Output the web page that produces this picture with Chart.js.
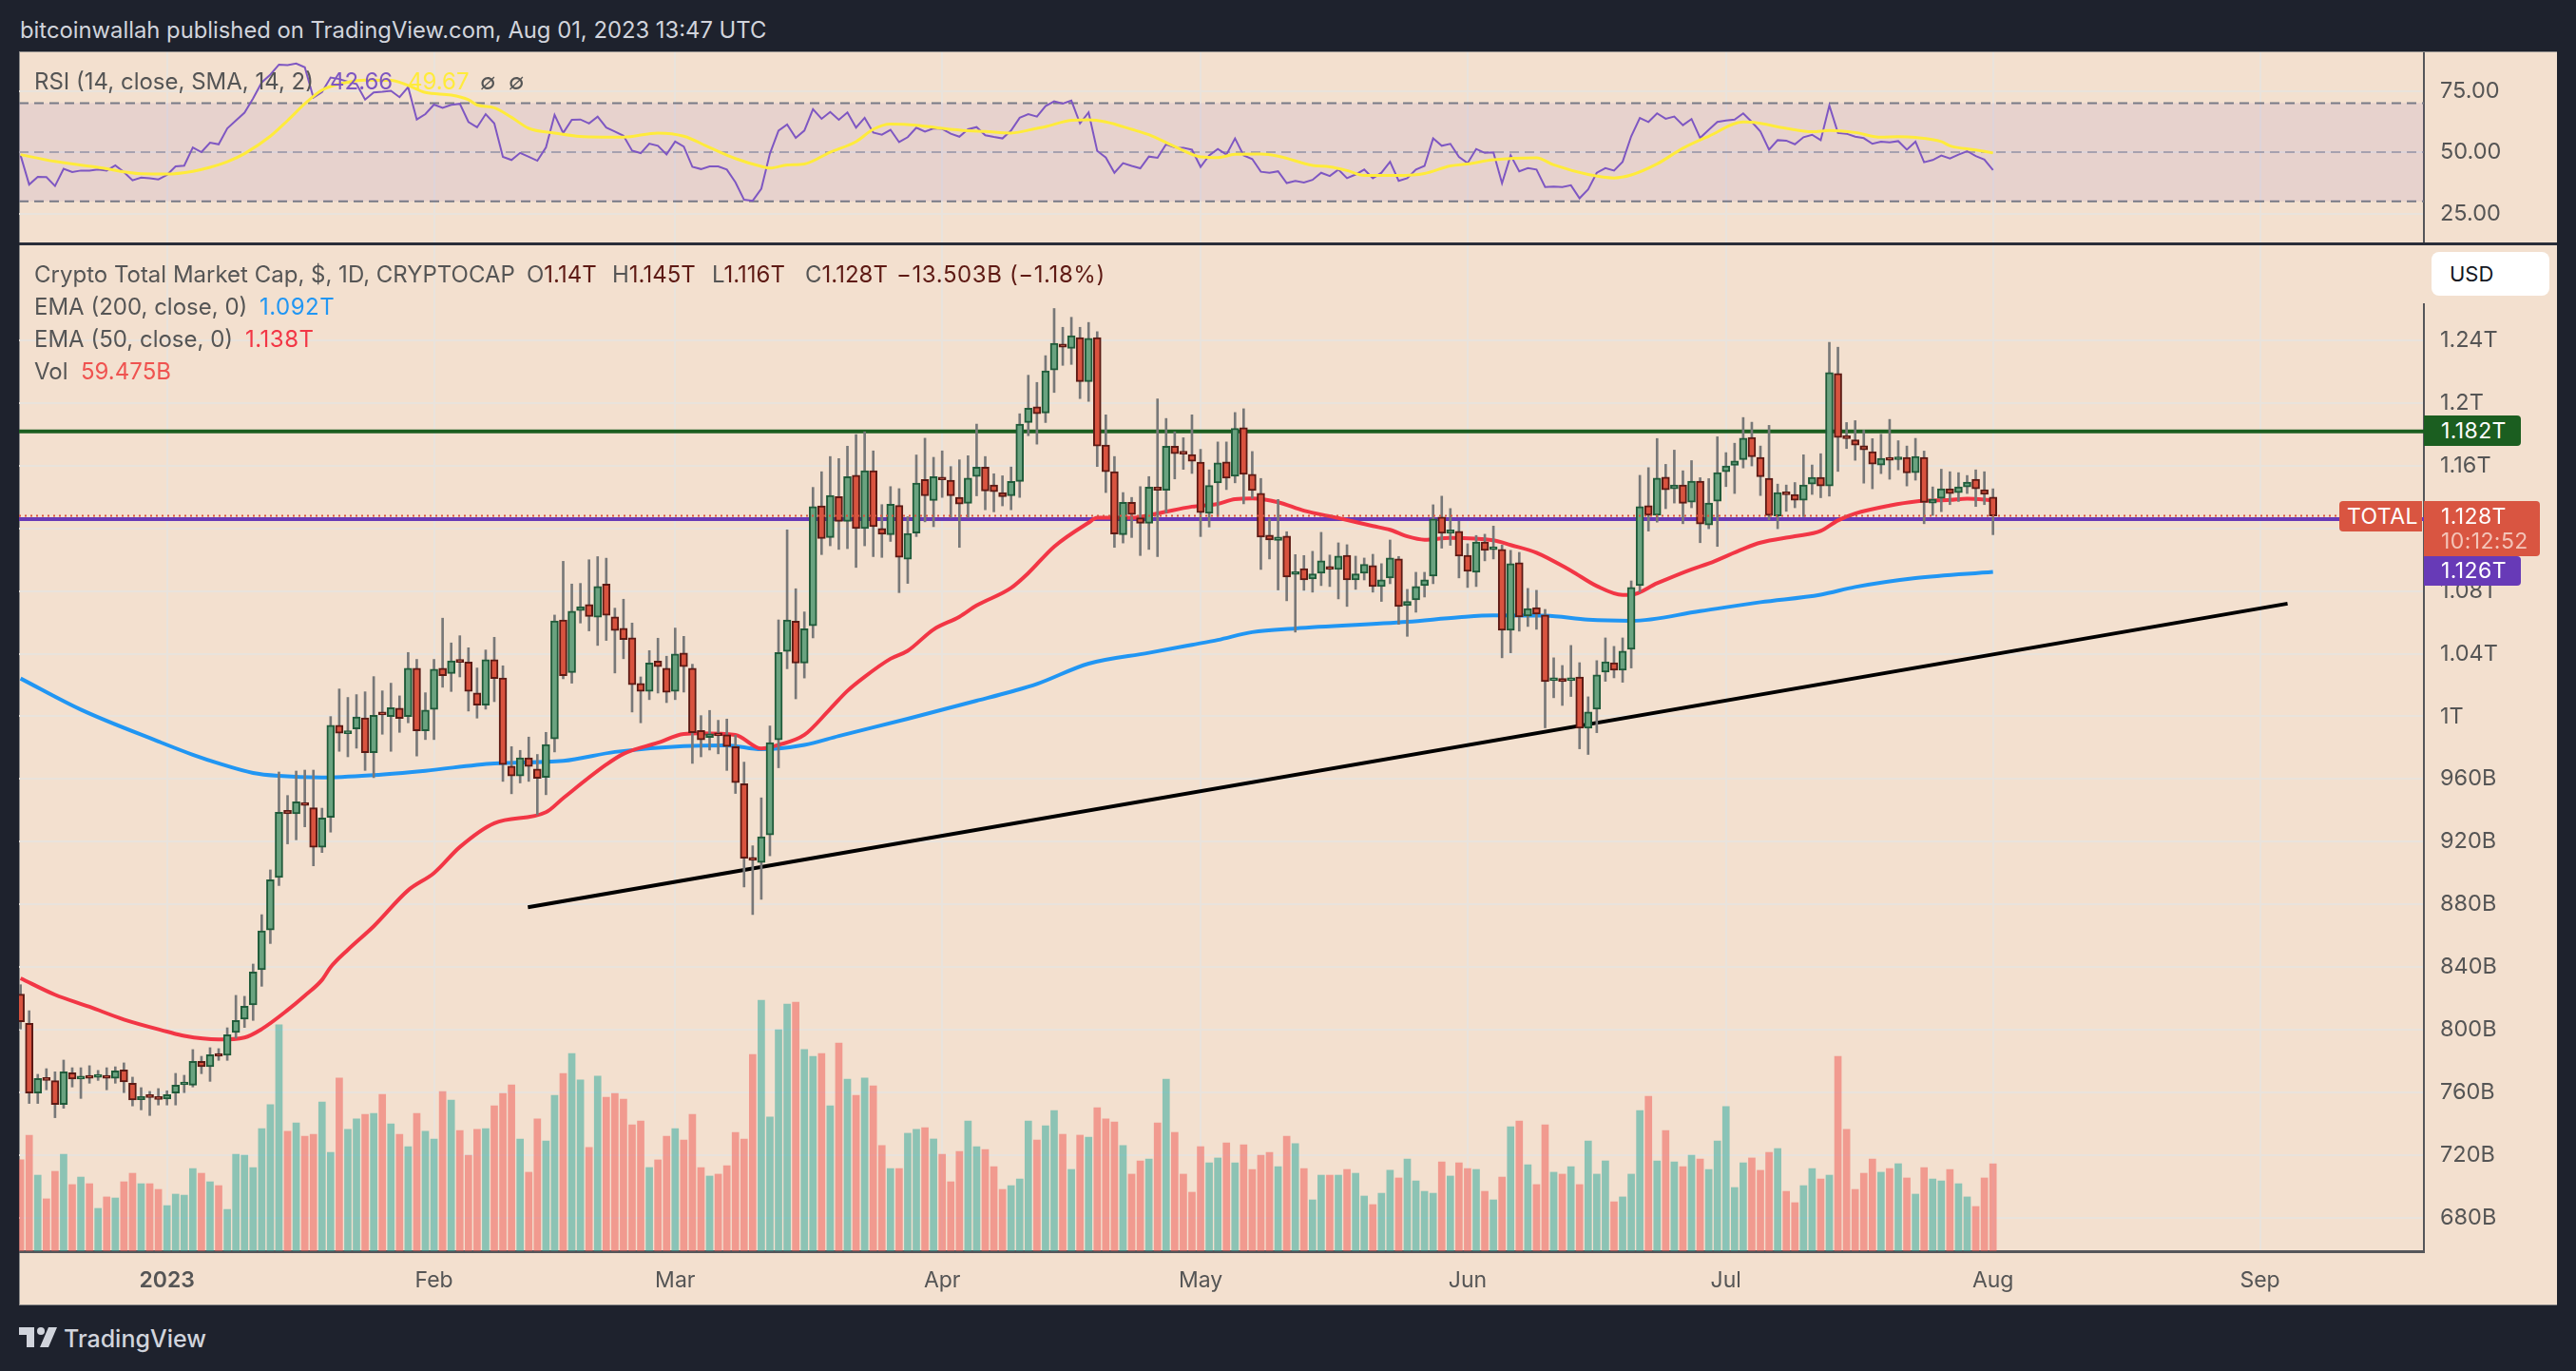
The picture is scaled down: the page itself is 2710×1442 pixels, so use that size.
<!DOCTYPE html>
<html><head><meta charset="utf-8">
<script src="https://cdn.jsdelivr.net/npm/chart.js@4/dist/chart.umd.min.js"></script>
<style>
html,body{margin:0;padding:0;background:#1e222d;width:2710px;height:1442px;overflow:hidden;font-family:Inter,sans-serif}
.a{position:absolute;white-space:pre;line-height:1}
#frame{position:absolute;left:20px;top:54px;width:2669px;height:1317px;background:#f3e0cf;border:1px solid #8d8c8b;border-right:0;box-sizing:content-box}
canvas{position:absolute;left:20px}
.t{font-size:24px;color:#555;transform:translateY(-50%)}
.tag{position:absolute;color:#fff;font-size:23px;letter-spacing:.4px;line-height:1;box-sizing:border-box;display:flex;align-items:center;padding-left:18px;white-space:pre}
</style></head><body>
<div id="frame"></div>
<div class="a" id="sep" style="left:20px;top:255px;width:2670px;height:3px;background:#2a2e39"></div>
<canvas id="rsiC" width="2670" height="200" style="top:55px"></canvas>
<canvas id="mainC" width="2670" height="1114" style="top:258px"></canvas>
<div class="a" style="left:2549px;top:258px;width:4px;height:61px;background:#f3e0cf"></div>

<div class="a" style="left:21px;top:32px;font-size:23.8px;color:#d1d4dc;transform:translateY(-50%)">bitcoinwallah published on TradingView.com, Aug 01, 2023 13:47 UTC</div>

<div class="a t" style="left:36px;top:86px">RSI (14, close, SMA, 14, 2)</div>
<div class="a t" style="left:347px;top:86px;color:#7e57c2">42.66</div>
<div class="a t" style="left:429px;top:86px;color:#ffeb3b">49.67</div>
<div class="a t" style="left:505px;top:86px">∅</div>
<div class="a t" style="left:535px;top:86px">∅</div>

<div class="a t" style="left:36px;top:289px">Crypto Total Market Cap, $, 1D, CRYPTOCAP</div>
<div class="a t" style="left:554px;top:289px">O<span style="color:#5e1a14">1.14T</span></div>
<div class="a t" style="left:644px;top:289px">H<span style="color:#5e1a14">1.145T</span></div>
<div class="a t" style="left:749px;top:289px">L<span style="color:#5e1a14">1.116T</span></div>
<div class="a t" style="left:847px;top:289px">C<span style="color:#5e1a14">1.128T</span></div>
<div class="a t" style="left:943px;top:289px;letter-spacing:.6px;color:#5e1a14">−13.503B (−1.18%)</div>
<div class="a t" style="left:36px;top:323px">EMA (200, close, 0)</div>
<div class="a t" style="left:273px;top:323px;color:#2196f3;letter-spacing:.5px">1.092T</div>
<div class="a t" style="left:36px;top:357px">EMA (50, close, 0)</div>
<div class="a t" style="left:258px;top:357px;color:#f23645;letter-spacing:.5px">1.138T</div>
<div class="a t" style="left:36px;top:391px">Vol</div>
<div class="a t" style="left:85px;top:391px;color:#ef5350">59.475B</div>

<div class="a" style="left:2558px;top:265px;width:124px;height:46px;background:#fff;border-radius:8px;box-sizing:border-box;padding:12px 0 0 19px;font-size:22px;color:#131722">USD</div>
<div class="tag" style="left:2550px;top:437px;width:102px;height:32px;background:#1b5e20;border-radius:0 4px 4px 0">1.182T</div>
<div class="tag" style="left:2461px;top:527px;width:87px;height:32px;background:#d95541;border-radius:4px 0 0 4px;padding-left:8px">TOTAL</div>
<div class="tag" style="left:2550px;top:527px;width:122px;height:58px;background:#d95541;border-radius:0 4px 4px 0;display:block;padding-top:5px">1.128T<br><span style="display:inline-block;margin-top:3px;color:#f3c4b8">10:12:52</span></div>
<div class="tag" style="left:2550px;top:585px;width:102px;height:31px;background:#673ab7;border-radius:0 4px 4px 0">1.126T</div>

<svg class="a" style="left:20px;top:1396px" width="40" height="21" viewBox="0 0 40 21"><path fill="#d1d4dc" d="M16 21H8V8H0V0h16zM31 21h-9l9-21h9z"/><circle cx="23" cy="4" r="4" fill="#d1d4dc"/></svg>
<div class="a" style="left:67px;top:1408px;font-size:25px;font-weight:500;color:#d1d4dc;transform:translateY(-50%)">TradingView</div>

<script>
const firstDay = -17;
const open = [822.7,804.1,759.6,768.5,767.4,752.3,772.5,768.5,770.3,769.6,
770.7,769,774.3,765.8,755.3,757.5,756.7,755.7,759.6,764.8,
764.6,779.8,776.3,784.2,783.6,798.2,806.7,815.8,838.3,863.7,
897.1,940,937.8,944.9,941.6,916.5,935.6,994.3,989,992,
999.1,976.9,1001.8,999.9,1005.2,999.9,1030.7,990.8,1004.4,1030.7,
1027.3,1035.3,1034.7,1014.9,1007.2,1036.2,1024.6,968.2,961.9,973.6,
966.4,961.1,985.6,1061.6,1027.9,1067.5,1071.4,1063.3,1084.5,1063.5,
1056.2,1050.1,1021,1015.9,1035.3,1030.7,1015.9,1040.4,1030.7,991,
986.6,988.2,988.2,980.7,957,909,906.7,924.3,985,1041.4,
1060.8,1034,1057.8,1134.4,1114.2,1140.3,1124.5,1153.9,1119.9,1156.9,
1119.9,1116,1134.7,1100.4,1117,1151.3,1137.8,1152.6,1150.8,1139.8,
1136,1153.1,1159.2,1147.7,1142.9,1140.8,1150,1187.6,1197.6,1193.7,
1221.1,1237.7,1234.9,1241.8,1213.7,1241.8,1173.3,1156.2,1116,1136.7,
1126.8,1123.2,1146.4,1144.4,1172.5,1167.9,1167.1,1162.3,1129.6,1149.1,
1162.4,1153.3,1184.3,1154.5,1142.4,1115.7,1112.4,1115.1,1090.6,1094.4,
1087.8,1091.4,1094.6,1093.8,1102.9,1087.1,1091.4,1096.3,1082.9,1088.4,
1100.5,1070.8,1074.4,1083.5,1089.6,1127.2,1116.9,1118.1,1102.9,1092,
1111.4,1106.4,1106.6,1055,1098.1,1064.1,1069.5,1064.7,1022.8,1024.2,
1022.8,1025.2,992.5,1004.6,1028.3,1034.3,1029.5,1042.8,1083.5,1134.5,
1128.4,1152.8,1145.3,1147.7,1136.8,1150.2,1122.2,1137.4,1156.2,1160.3,
1163.9,1178.1,1165.3,1152,1127.9,1142.3,1141.7,1138,1148.3,1152.6,
1147.1,1218.9,1177.9,1176.5,1172.8,1169,1160.5,1164.3,1163.9,1165.3,
1155.6,1165.3,1136.2,1139.2,1145.3,1142.9,1146.5,1151.4,1144.7,1140];
const close = [805.1,759.6,768.9,767.6,752.3,773.1,768.5,770,769,770.9,
769,773.7,766.6,755.1,757.3,756.7,755.5,758.5,764.6,765.4,
779.8,776.3,784,783,796.8,805.9,815,836.8,863,895.7,
938.8,937.8,945.5,943.2,916.5,935.1,994.3,989.2,990.6,999.7,
976.9,1000.7,1001,1005.6,998.7,1030.7,990.8,1004,1030.1,1026,
1035.5,1034.5,1015.9,1007.2,1036.2,1024.2,969.2,961.9,973.6,968,
960.5,982.1,1061,1026,1067.1,1070,1063.7,1082.9,1064.5,1054.8,
1049.1,1020.2,1015.9,1034.1,1031.7,1015.3,1039.8,1031.7,989.6,985,
988.8,987.6,980.7,957.7,909.5,908.1,923.1,983.2,1040.8,1061.6,
1034,1056,1133.9,1113.5,1141.1,1124.5,1153.1,1119.9,1156.9,1121.1,
1116.3,1135.5,1101.5,1116.8,1149,1140.8,1153.1,1151,1140.8,1135.5,
1152.1,1159.2,1143.9,1143.4,1140.3,1150,1186.6,1196.8,1193.2,1220.6,
1238.2,1235.7,1243.1,1213.7,1241.3,1172.5,1156.2,1116.5,1136.7,1128.8,
1123.2,1146.4,1144.4,1172.5,1167.7,1167.4,1162.8,1130.1,1147.5,1161.8,
1152.1,1183.9,1154.5,1144.2,1114.5,1112.6,1114.5,1089,1091.2,1087.2,
1091,1099.3,1093.8,1102.3,1087.1,1091,1097.1,1082.9,1087.2,1101.1,
1070.2,1073.4,1082.9,1087.2,1126,1116.9,1119.1,1102.3,1092.6,1111.4,
1106,1107,1055,1097.5,1063.5,1068.9,1065.3,1022.2,1023.8,1022.2,
1024.2,992.5,1002.8,1026.5,1034.9,1029.5,1041.6,1082.3,1133.9,1128.4,
1152.1,1144.7,1147.7,1136,1150.2,1122.8,1136.2,1155.6,1159.9,1163.1,
1177.7,1165.7,1153,1128.3,1142.9,1141.5,1138,1147.7,1152.6,1147.1,
1219.5,1178.1,1177.3,1173.2,1170.2,1161.1,1164.7,1163.5,1165.5,1155.4,
1165.9,1136.6,1138.6,1145.3,1142.3,1146.5,1149.5,1145.3,1141.7,1128];
const high = [828.7,812.1,771.5,775.1,773.1,780.6,775.7,775.7,777,774,
775.7,776.3,778.8,769.7,763,760.6,762.4,761,772.1,770.9,
787.3,783,788.5,787.9,801.2,821.9,821.3,841.9,873.4,902,
964.5,949.5,965.1,965.7,965.7,941.4,999.9,1017.5,1012.1,1013.9,
1015.7,1025.4,1016.3,1021.2,1013.1,1040.8,1036.4,1015.1,1036.4,1062.7,
1046.9,1051.5,1043.8,1030.9,1042.4,1050.5,1032.3,980.7,978.3,986.8,
975.7,989.8,1064.7,1099,1084.5,1084.9,1100,1102,1101,1069.1,
1074.8,1059.6,1025.2,1042,1049.9,1038.4,1056.4,1051.1,1033.3,1000.5,
1003.8,997.5,998.3,988,970.8,917.4,948,993.9,1061.6,1119.1,
1081.5,1066.7,1146.2,1156.2,1165.9,1164.6,1172.5,1179.9,1181.7,1169.5,
1135.2,1146.7,1145.4,1127.5,1166.9,1177.6,1165.4,1169.5,1159.5,1163.8,
1166.4,1186.6,1165.9,1154.9,1153.6,1159.2,1193.2,1217.8,1213.2,1230.3,
1260.4,1248.4,1254.8,1248.4,1251.5,1245.6,1192.5,1165.9,1142.9,1139.8,
1146.7,1153.1,1202.7,1190.2,1181.7,1177.9,1192.5,1170.5,1157.4,1175.2,
1175.2,1194,1196.4,1169.1,1151.9,1126,1138.5,1117.9,1103.3,1102.7,
1105.4,1117.5,1103,1110.8,1109.6,1102.3,1101.1,1103.5,1097.5,1112.6,
1102.1,1081.1,1092,1092,1135.1,1140.6,1132.7,1124.6,1110.2,1115.5,
1116.3,1121.5,1109.4,1106,1104.7,1081.7,1080.5,1068.3,1037.4,1032.5,
1045.3,1034.3,1012.5,1035.6,1050.1,1044.7,1050.1,1086.5,1153.9,1158.8,
1177.4,1160.9,1170,1156.8,1163.3,1152.4,1151.8,1178.5,1168.4,1174.4,
1190.8,1187.8,1172.6,1185.8,1148.3,1147.7,1149.3,1167,1160.5,1167.7,
1238.8,1235.7,1187.6,1188.8,1182.7,1177.3,1180.1,1189.6,1176,1172.6,
1177.5,1169.4,1146.5,1157.8,1156.2,1155.6,1153.8,1157.4,1156.2,1145.3];
const low = [800.4,752.9,752.9,761.6,743.8,749.8,763.4,756.1,765.8,767.6,
761.6,765.8,759.8,751.3,748.8,745.2,751.9,751.9,751.9,759.8,
763.4,771.9,767,780.4,780.4,794.6,801.4,805.9,827.7,855,
892,918.6,921.2,929.5,904.6,913.1,926.1,977.7,974.2,979.7,
965.5,960.9,988.6,977.7,989.8,995.9,974.7,985.2,985.2,1018.6,
1015.9,1025.2,1003.4,998.9,1004.6,1009.4,958.5,950.6,957.5,958.5,
937.2,950,977.3,1024,1021.2,1059.6,1054.6,1045.3,1048.5,1027.7,
1036.8,1002.8,995.9,1010.7,1014.9,1008.8,1010.7,1015.5,970,974.2,
978.5,976.1,965.5,950.8,891.1,873.5,883.2,911,967.2,1030.4,
1011.2,1024.5,1050.1,1103.3,1108.9,1106.6,1107.1,1095.1,1108.9,1102,
1101.5,1111.7,1079,1084.9,1114.8,1124.2,1121.1,1139.8,1127,1107.9,
1127,1140.8,1131.9,1130.6,1134.4,1131.9,1139.8,1179.2,1173.8,1187.6,
1206.8,1224.1,1224.7,1202.9,1201.1,1159.5,1142.9,1107.9,1110.7,1114.2,
1102.7,1106.6,1102,1130,1151.6,1157.7,1155.1,1114.8,1120.9,1127.6,
1144.8,1149.1,1135.7,1139.3,1093.8,1100.5,1080.7,1073.8,1053.8,1080.5,
1079.3,1083.5,1082.9,1075,1070.2,1081.1,1087.1,1079.3,1073.4,1084.7,
1058.8,1051.1,1066.5,1076.2,1084.7,1107.4,1109.2,1088.4,1082.3,1082.9,
1099.3,1100.5,1037.4,1040.6,1054.4,1057.4,1055.6,992.7,1011.9,1007,
1012.7,979.3,975.7,989.6,1022.4,1024.6,1021.8,1030.9,1079.5,1118.3,
1124,1132.6,1136.2,1123,1133.2,1110.9,1119.8,1108.5,1146.7,1142.3,
1158.6,1159.9,1141,1125.5,1119.8,1130.9,1133.2,1127.5,1141.7,1139.6,
1140.6,1156.4,1171,1163.5,1148.9,1145.3,1155,1151.4,1157.4,1147.1,
1150.8,1123,1128.3,1130.7,1135.2,1137.2,1142.3,1134,1135.2,1116];
const volume = [62.1,78.9,51.7,35.6,54.3,65.9,45.3,50.4,45.9,29.1,
36.9,36.2,47.2,53,45.9,45.9,42,31,38.8,38.1,
56.2,53,47.2,44.6,28.4,65.9,65.3,56.9,83.4,99.6,
153.9,81.5,87.3,78.2,79.5,101.5,67.2,117.7,82.8,89.9,
93.1,93.7,106.7,86.6,79.5,71.1,93.7,81.5,76.3,108.6,
102.8,82.1,65.3,82.8,83.4,98.9,107.3,113.1,76.3,53.7,
89.9,75,106,120.9,134.5,116.4,70.5,119,104.7,107.3,
103.4,86,88.6,56.9,62.1,78.2,83.4,75.6,93.1,56.9,
51.1,52.4,58.2,80.8,76.3,133.8,170.7,91.2,150.6,168.1,
169.4,137.1,132.5,134.5,98.9,141.6,117,106,117.7,112.5,
71.8,56.2,56.2,80.2,82.8,84,76.3,65.9,47.2,67.9,
88.6,71.1,69.2,57.5,42,44.6,49.1,88.6,75.6,85.3,
95.7,79.5,55.6,78.9,77.6,97.6,89.9,87.9,71.8,52.4,
61.4,62.7,87.3,117,80.8,52.4,40.1,71.1,60.1,63.4,
73.7,60.1,72.4,55.6,65.3,67.2,57.5,78.2,73.1,56.2,
34.9,51.7,51.7,51.7,55.6,53,37.5,31.7,39.4,55,
49.8,62.7,47.8,40.7,39.4,60.8,51.1,60.1,56.2,55.6,
40.7,34.9,50.4,84.7,88.6,58.8,45.3,86,53.7,52.4,
57.5,45.3,75,52.4,61.4,33.6,36.9,52.4,95.7,105.4,
61.4,82.1,60.8,57.5,65.3,62.7,55.6,75,98.3,43.3,
60.1,63.4,55,67.2,69.8,40.7,33,44.6,56.2,49.1,
51.7,132.5,82.8,42,53,62.7,53.7,56.2,59.5,49.8,
38.8,56.9,49.1,47.8,55.6,45.9,36.9,30.4,49.8,59.475];
const rsi = [48.7,36.8,39.9,39.8,36.2,43.2,41.9,42.5,42.5,42.9,
42.5,44.6,41.9,38.5,39.6,39.4,38.9,40.7,44.2,44.5,
51.9,50,53.9,53.2,59.7,62.9,66.1,71.9,78.4,81.6,
85.7,85.5,86.1,84.6,72.2,74.5,80.4,79.8,78.7,77.8,
71.4,74.3,74.6,75,72.4,76.5,63.3,65.5,69.4,68.1,
69.3,69.7,62.3,60.1,65.5,61.7,48.1,46.8,49.7,48.1,
46.5,51.9,65.2,57.8,63.2,63.3,61.7,64.5,60,58.4,
56.7,50.6,49.6,53.5,52.6,49.1,54.3,52.3,44,43.1,
44.2,44.2,42.9,37.7,30.6,30.2,35.1,49.4,58.8,61.3,
55.8,58.8,67.5,63.6,66.4,63.2,66.2,60,64,58,
57.1,59.1,54.1,56.1,60,58.4,59.7,59.5,57.5,56.3,
59.3,60.2,56.9,56.2,55.6,58.8,64,65.5,64.5,68.8,
70.7,69.8,71,61.7,66.2,50.5,47.8,41.6,45.5,44.4,
43.4,48.2,47.7,53.2,51.9,51.8,51,44,48.7,51.3,
49,55.6,48.7,47.2,42,41.6,42.2,37.4,38.3,37.6,
38.7,41.6,40.3,42.9,39.4,40.9,42.9,39.4,41.6,46.1,
38.3,39.4,42.9,44.4,55.6,52.6,53.4,48.1,45.5,51.3,
49.7,49.9,37.3,48.7,42.2,43.5,42.9,35.8,36,35.8,
36.5,31.2,34.8,41.6,43.5,42.5,46.1,56.5,63.9,62.3,
65.8,63.6,64.5,61,63.5,55.8,59.1,62.3,62.9,63.3,
65.8,62.3,58.4,51,54.9,54.7,53.2,56.1,57.1,54.9,
69,57.8,57.5,56.3,55.7,53.4,54.3,54,54.5,51,
54.3,45.9,46.8,48.6,47.4,49,50.4,48.4,47,42.66];
const smaDays = [-17,-13,-8,-3,0,3,5,7,9,12,14,16,18,21,23,26,28,30,33,35,36,38,40,42,45,49,53,57,60,63,66,69,70,72,74,77,80,82,84,87,90,93,95,98,101,102,105,107,109,112,114,117,120,122,124,127,129,133,135,137,139,143,146,149,151,154,159,161,165,168,170,173,176,179,183,184,188,191,193,196,199,201,203,206,207,210,212];
const smaVals = [49,46.2,43.8,41.2,41.1,42.2,43.8,46.1,49.4,56.5,62.9,69.7,75.3,78.5,79.4,79.3,77.2,74.3,73.3,71.4,69.2,68.1,64.2,59.7,57.8,56.2,56.1,57.8,56.5,51.9,47.4,44.2,43.5,44.8,45.2,50,54.3,59.3,61.4,61,59.7,58.7,58.4,57.8,59.7,60.4,63,63.2,62.3,59.3,57.1,52.3,48.1,47.8,49.1,49.2,48.4,44.6,44,42.5,40.5,40.5,41.3,44.4,45.2,46.9,47.7,44.8,40.9,39.5,40.7,45.2,51.6,56.5,62.3,62.2,59.7,58.3,58.8,58,56.1,56.3,56,54.3,52.6,50.9,49.67];
const ema50Days = [-17,-13,-9,-5,0,2,6,9,11,14,16,18,19,21,24,28,31,34,38,44,46,51,53,57,60,62,66,69,71,74,77,79,81,84,86,89,92,94,98,100,103,107,108,112,115,119,122,124,126,129,132,136,140,142,144,146,149,154,156,159,163,166,169,170,173,177,179,183,185,189,192,194,196,200,203,207,209,212];
const ema50Vals = [832.8,822.3,814.6,806.5,798.8,796,793.7,795,800.4,812.5,821.7,831.8,839.9,851,866,889,900,916.6,931.8,938.8,947.8,969.2,976.1,983.2,988.8,989.2,988.2,979.5,981.8,988.2,1004.8,1016.3,1025.3,1036.8,1041.9,1055.5,1063.6,1070.8,1082,1091.5,1108.4,1123.7,1126.8,1126.8,1129.6,1133.9,1135.7,1138.7,1139.1,1136.7,1131.3,1126.6,1121.5,1119.1,1114.9,1112.8,1114,1112.4,1109.4,1104.5,1093,1083.2,1077.5,1077.6,1085,1093.9,1097.6,1106.9,1110.9,1115,1118.4,1125.1,1129.5,1134.6,1137.2,1138.2,1139,1138];
const ema200Days = [-17,-10,-1,3,6,10,13,18,24,30,38,46,52,60,65,69,74,78,86,94,98,101,107,114,119,122,126,131,144,150,154,160,165,170,178,185,192,196,203,212];
const ema200Vals = [1024.2,1004.3,984,975.5,970,963.9,962,961,962.5,965.3,970,971.6,977.3,981.1,981.5,979,981.8,987.5,998.5,1010,1015.8,1020.7,1033.7,1040.6,1045.7,1048.8,1053.8,1056.2,1060.4,1063.3,1064.5,1064.3,1061.7,1061,1067.2,1072.9,1077.7,1082.6,1088.3,1092.3];
const trendDays = [41.9,246.2];
const trendVals = [878.1,1072];
const resistance = 1182, support = 1126, lastClose = 1128;
const priceTicks = [680,720,760,800,840,880,920,960,1000,1040,1080,1120,1160,1200,1240];
const rsiTicks = [25,50,75];
const rsiLevels = [70,50,30];
const monthDays = [0,31,59,90,120,151,181,212,243];
const monthNames = ['2023','Feb','Mar','Apr','May','Jun','Jul','Aug','Sep'];

const xMin = -17.18, xMax = 262.03;
const days = open.map((_, i) => firstDay + i);
const pts = (xs, ys) => xs.map((x, i) => ({x, y: ys[i]}));
const span = v => [{x: xMin, y: v}, {x: xMax, y: v}];
const up = i => close[i] >= open[i];
const fmtPrice = v => v >= 1000 ? (v / 1000).toString() + 'T' : v + 'B';
const GRID = '#e9e3dc', TXT = '#555555', FONT = 'Inter';
const smooth = {cubicInterpolationMode: 'monotone'};

const xScale = (labels) => ({
  type: 'linear', min: xMin, max: xMax, offset: false,
  afterBuildTicks: a => { a.ticks = monthDays.map(v => ({value: v})); },
  afterFit: a => { a.height = labels ? 56 : 0; a.paddingLeft = 0; a.paddingRight = 0; },
  grid: {color: GRID, lineWidth: 2, drawTicks: false, offset: false},
  border: labels ? {display: true, color: '#55565a', width: 3} : {display: false},
  ticks: labels ? {
    display: true, autoSkip: false, maxRotation: 0, padding: 17, color: TXT,
    font: c => ({family: FONT, size: 23, weight: c.index === 0 ? '600' : '400'}),
    callback: v => monthNames[monthDays.indexOf(v)]
  } : {display: false}
});
const yRight = (ticks, fmt, min, max) => ({
  position: 'right', min, max,
  afterBuildTicks: a => { a.ticks = ticks.map(v => ({value: v})); },
  afterFit: a => { a.width = 140; a.paddingTop = 0; a.paddingBottom = 0; },
  grid: {color: GRID, lineWidth: 2, drawTicks: false},
  border: {display: true, color: '#55565a', width: 2},
  ticks: {padding: 17, color: TXT, font: {family: FONT, size: 23.5}, callback: fmt}
});
const line = (data, color, width, order, extra) => Object.assign({
  type: 'line', data, borderColor: color, borderWidth: width, pointRadius: 0,
  tension: 0, order, yAxisID: 'y', fill: false
}, extra || {});

new Chart(document.getElementById('rsiC'), {
  type: 'line',
  data: {datasets: [
    line(pts(days, rsi), '#7e57c2', 2, 2),
    line(pts(smaDays, smaVals), '#ffeb3b', 3, 1, smooth),
    line(span(rsiLevels[0]), '#787b86', 2, 5, {borderDash: [10, 6], fill: {target: {value: rsiLevels[2]}, above: 'rgba(126,87,194,0.1)'}}),
    line(span(rsiLevels[1]), 'rgba(120,123,134,0.55)', 2, 5, {borderDash: [10, 6]}),
    line(span(rsiLevels[2]), '#787b86', 2, 5, {borderDash: [10, 6]})
  ]},
  options: {
    responsive: false, animation: false, devicePixelRatio: 1, layout: {padding: 0},
    plugins: {legend: {display: false}, tooltip: {enabled: false}},
    scales: {x: xScale(false), y: yRight(rsiTicks, v => v.toFixed(2), 13.2, 90.7)}
  }
});

new Chart(document.getElementById('mainC'), {
  type: 'bar',
  data: {datasets: [
    {type: 'bar', data: pts(days, volume), yAxisID: 'yVol', grouped: false, barThickness: 7, order: 8,
     backgroundColor: days.map((_, i) => up(i) ? 'rgba(38,166,154,0.5)' : 'rgba(239,83,80,0.5)')},
    line(span(resistance), '#1b5e20', 4, 7),
    line(span(support), '#673ab7', 4, 7),
    line(pts(trendDays, trendVals), '#000000', 4, 6),
    line(pts(ema200Days, ema200Vals), '#2196f3', 4, 5, smooth),
    line(pts(ema50Days, ema50Vals), '#f23645', 4, 4, smooth),
    {type: 'bar', data: days.map((d, i) => ({x: d, y: [low[i], high[i]]})), yAxisID: 'y', grouped: false,
     barThickness: 2, backgroundColor: '#787878', borderWidth: 0, order: 3},
    {type: 'bar', data: days.map((d, i) => ({x: d, y: [open[i], close[i]]})), yAxisID: 'y', grouped: false,
     barThickness: 8, minBarLength: 3, borderWidth: 2, borderSkipped: false, order: 2,
     backgroundColor: days.map((_, i) => up(i) ? '#6aa380' : '#d9533f'),
     borderColor: days.map((_, i) => up(i) ? '#205b3a' : '#5c1a14')},
    line(span(lastClose), '#d9533f', 2, 1, {borderDash: [2, 4]})
  ]},
  options: {
    responsive: false, animation: false, devicePixelRatio: 1, layout: {padding: 0},
    plugins: {legend: {display: false}, tooltip: {enabled: false}},
    scales: {
      x: xScale(true),
      y: yRight(priceTicks, fmtPrice, 658.57, 1300.75),
      yVol: {axis: 'y', display: false, min: 0, max: 684}
    }
  }
});
</script>
</body></html>
